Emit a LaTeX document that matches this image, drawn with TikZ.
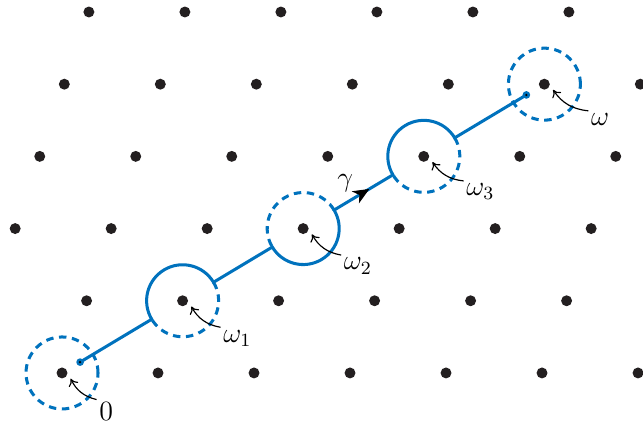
\documentclass[tikz,border=0pt]{standalone}
\usepackage{amsmath,amssymb}
\usepackage{xcolor}
\usepackage{tikz}
\usetikzlibrary{calc,arrows.meta,decorations.markings}

\definecolor{pathblue}{RGB}{0,114,189}
\definecolor{dotgray}{RGB}{35,31,32}

\tikzset{
  latt/.style={fill=dotgray},
  gam/.style={pathblue, line width=1.3pt},
  ghost/.style={pathblue, line width=1.3pt, dash pattern=on 3.2pt off 2.4pt},
  lab/.style={inner sep=1pt, font=\large},
  pointer/.style={-{To[length=3pt,width=4.5pt]}, line width=0.5pt},
  midarrow/.style={decoration={markings,
      mark=at position #1 with {\arrow[black]{Stealth[length=7pt,width=6pt,inset=2pt]}}},
    decorate},
}

\begin{document}
\begin{tikzpicture}[scale=1.45]
  \useasboundingbox (-0.646,-0.552) rectangle (6.052,3.885);
  \clip (-0.646,-0.552) rectangle (6.052,3.885);
  % lattice
  \foreach \n in {0,...,5}
    \foreach \m in {-2,...,7}
      \fill[latt] ({\m+0.256*\n},{0.752*\n}) circle (0.057);
  % points along the line
  \coordinate (o)  at (0,0);
  \coordinate (w1) at (1.256,0.752);
  \coordinate (w2) at (2.512,1.504);
  \coordinate (w3) at (3.768,2.256);
  \coordinate (w)  at (5.024,3.008);
  \def\rr{0.375}
  \def\ang{30.9}
  \coordinate (start) at ($(o)!0.15!(w1)$);
  \coordinate (end)   at ($(w)!0.15!(w3)$);
  % dashed halves and circles
  \draw[ghost] (o) circle (\rr);
  \draw[ghost] (w) circle (\rr);
  \draw[ghost] ($(w1)+(\ang:\rr)$) arc[start angle=\ang, end angle=\ang-180, radius=\rr];
  \draw[ghost] ($(w2)+(\ang:\rr)$) arc[start angle=\ang, end angle=\ang+180, radius=\rr];
  \draw[ghost] ($(w3)+(\ang:\rr)$) arc[start angle=\ang, end angle=\ang-180, radius=\rr];
  % the path gamma
  \draw[gam] (start) -- ($(w1)+(\ang+180:\rr)$)
    arc[start angle=\ang+180, end angle=\ang, radius=\rr]
    -- ($(w2)+(\ang+180:\rr)$)
    arc[start angle=\ang+180, end angle=\ang+360, radius=\rr]
    -- ($(w3)+(\ang+180:\rr)$)
    arc[start angle=\ang+180, end angle=\ang, radius=\rr]
    -- (end);
  \fill[pathblue] (start) circle (0.04);
  \fill[black] (start) circle (0.013);
  \fill[pathblue] (end) circle (0.04);
  \fill[black] (end) circle (0.013);
  \path[midarrow=0.6] ($(w2)+(\ang:\rr)$) -- ($(w3)+(\ang+180:\rr)$);
  \node[lab] (gl) at ($(w2)!0.5!(w3)+(-0.19,0.10)$) {$\gamma$};
  % labels
  \node[lab] (l0) at ($(o)+(0.46,-0.40)$)  {$0$};
  \node[lab] (l1) at ($(w1)+(0.57,-0.39)$) {$\omega_1$};
  \node[lab] (l2) at ($(w2)+(0.57,-0.39)$) {$\omega_2$};
  \node[lab] (l3) at ($(w3)+(0.59,-0.37)$) {$\omega_3$};
  \node[lab] (l4) at ($(w)+(0.58,-0.37)$)  {$\omega$};
  \coordinate (t0) at ($(o)+(0.09,-0.06)$);
  \coordinate (t1) at ($(w1)+(0.09,-0.06)$);
  \coordinate (t2) at ($(w2)+(0.09,-0.06)$);
  \coordinate (t3) at ($(w3)+(0.09,-0.06)$);
  \coordinate (t4) at ($(w)+(0.09,-0.06)$);
  \draw[pointer] (l0.north west) to[bend left=25] (t0);
  \draw[pointer] (l1.north west) to[bend left=25] (t1);
  \draw[pointer] (l2.north west) to[bend left=25] (t2);
  \draw[pointer] (l3.north west) to[bend left=25] (t3);
  \draw[pointer] (l4.north west) to[bend left=25] (t4);
\end{tikzpicture}
\end{document}
